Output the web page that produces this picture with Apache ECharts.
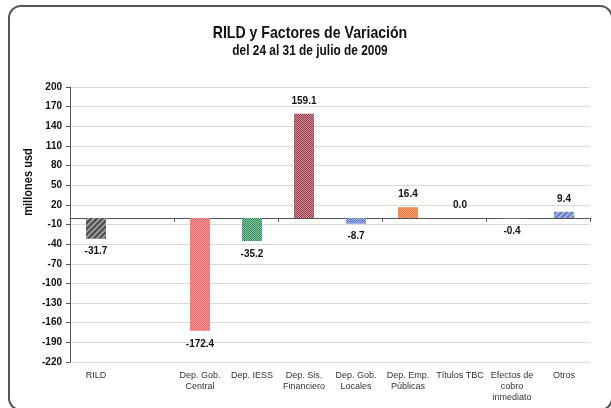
<!DOCTYPE html>
<html>
<head>
<meta charset="utf-8">
<script src="https://cdn.jsdelivr.net/npm/echarts@6/dist/echarts.min.js"></script>
<style>
html, body { margin: 0; padding: 0; background: #fff; }
#main { width: 611px; height: 408px; }
</style>
</head>
<body>
<div id="main"></div>
<script>
var categories = ['RILD', '', 'Dep. Gob.\nCentral', 'Dep. IESS', 'Dep. Sis.\nFinanciero',
	'Dep. Gob.\nLocales', 'Dep. Emp.\nPúblicas', 'Títulos TBC', 'Efectos de\ncobro\ninmediato', 'Otros'];
var values = [-31.7, null, -172.4, -35.2, 159.1, -8.7, 16.4, 0.0, -0.4, 9.4];
var barColors = ['#4a4a4a', '#fff', '#f25c5c', '#2f8f5a', '#9c3a48', '#5b78c4', '#f26a2a', '#8aa0d8', '#9fb3e0', '#5f7cc0'];
var yMin = -220, yMax = 200, yStep = 30;

var myChart = echarts.init(document.getElementById('main'));

// patrones de relleno (rayado / cuadriculado)
var hatch = { symbol: 'rect', color: 'rgba(255,255,255,0.45)', dashArrayX: [1, 0], dashArrayY: [2, 2], rotation: -Math.PI / 4 };
var checker = { symbol: 'rect', color: 'rgba(255,255,255,0.45)', dashArrayX: [[1, 1], [0, 1, 1, 0]], dashArrayY: [1, 0], symbolSize: 1 };

var seriesData = values.map(function (v, i) {
	if (v === null) return null;
	var deco = (i === 0 || i === 9) ? hatch : checker;
	return {
		value: v,
		itemStyle: { color: barColors[i], decal: deco },
		label: { position: v < 0 ? 'bottom' : 'top' }
	};
});

// texto condensado (tipo Arial Narrow) con escala horizontal
function narrowText(txt, x, y, size, sx, rot) {
	return {
		type: 'text',
		x: x, y: y,
		scaleX: sx,
		rotation: rot || 0,
		style: {
			text: txt,
			font: 'bold ' + size + 'px "Liberation Sans"',
			fill: '#111', align: 'center', verticalAlign: 'middle'
		}
	};
}

var option = {
	animation: false,
	graphic: [{
		type: 'rect',
		shape: { x: 9, y: 6, width: 603, height: 404, r: 12 },
		style: { fill: 'none', stroke: '#555', lineWidth: 2 }
	},
		narrowText('RILD y Factores de Variación', 310, 33, 17, 0.83),
		narrowText('del 24 al 31 de julio de 2009', 310, 51, 14, 0.85),
		{
			type: 'text',
			x: 28, y: 182,
			rotation: Math.PI / 2,
			scaleX: 0.85,
			style: {
				text: 'millones usd',
				font: 'bold 13px "Liberation Sans"',
				fill: '#111', align: 'center', verticalAlign: 'middle'
			}
		}
	],
	grid: { left: 70, right: 21, top: 87, bottom: 46 },
	xAxis: [{
		type: 'category',
		data: categories,
		position: 'bottom',
		axisLine: { show: false, onZero: false },
		axisTick: { show: false },
		axisLabel: {
			interval: 0,
			margin: 8,
			fontFamily: 'Liberation Sans',
			fontSize: 9,
			lineHeight: 11,
			color: '#333'
		}
	}, {
		type: 'category',
		data: categories,
		position: 'top',
		axisLine: { show: true, onZero: true, lineStyle: { color: '#555', width: 1 } },
		axisTick: { show: true, inside: true, length: 4, lineStyle: { color: '#555' } },
		axisLabel: { show: false }
	}],
	yAxis: {
		type: 'value',
		min: yMin,
		max: yMax,
		interval: yStep,
		axisLine: { show: true, lineStyle: { color: '#555' } },
		axisTick: { show: true, length: 4, lineStyle: { color: '#555' } },
		axisLabel: { fontFamily: 'Liberation Sans', fontWeight: 'bold', fontSize: 10, color: '#111', margin: 8 },
		splitLine: { lineStyle: { color: '#d9d9d9' } }
	},
	series: [{
		type: 'bar',
		xAxisIndex: 0,
		barWidth: 20,
		data: seriesData,
		label: {
			show: true,
			distance: 8,
			fontFamily: 'Liberation Sans',
			fontWeight: 'bold',
			fontSize: 10,
			color: '#111',
			formatter: function (p) { return p.value.toFixed(1); }
		}
	}]
};

myChart.setOption(option);
</script>
</body>
</html>
